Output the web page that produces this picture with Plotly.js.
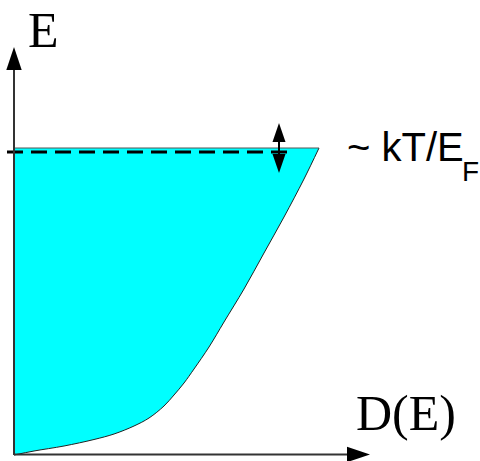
<!DOCTYPE html>
<html>
<head>
<meta charset="utf-8">
<script src="https://cdn.plot.ly/plotly-3.0.1.min.js"></script>
<style>html,body{margin:0;padding:0;background:#fff;}#chart{width:480px;height:461px;}</style>
</head>
<body>
<div id="chart"></div>
<script>
// Density of states D(E) (horizontal) versus energy E (vertical), arbitrary units
const dosValues    = [0, 20, 50, 80, 100, 120, 135, 150, 160, 170, 180, 195, 210, 230, 250, 270, 290, 305];
const energyValues = [0,  4,  9, 15.5, 21, 29,  37,  49,  60,  72,  86, 108, 133, 166, 202, 238, 276, 307];
const fermiEnergy = 307;
const smearingLevel = 303;      // dashed line just below E_F
const smearingHalf = 25;        // half extent of the double arrow (~kT)
const arrowX = 265;
const axisLabels = {x: 'D(E)', y: 'E'};
const noteMain = '~ kT/E';
const noteSub = 'F';

const xEnd = 356, yEnd = 408;   // axis arrow tips
const headLen = 23, headHalf = 7.7;
const aHeadLen = 19, aHeadHalf = 6.5;

const tri = (p) => 'M' + p.map(q => q[0] + ',' + q[1]).join(' L') + ' Z';

const traces = [
  {
    x: dosValues, y: energyValues, type: 'scatter', mode: 'lines',
    line: {color: '#222', width: 1, shape: 'spline', smoothing: 1},
    fill: 'tozerox', fillcolor: '#00ffff', hoverinfo: 'skip'
  },
  {
    x: [0, dosValues[dosValues.length - 1]], y: [fermiEnergy, fermiEnergy],
    type: 'scatter', mode: 'lines', line: {color: '#555', width: 1}, hoverinfo: 'skip'
  },
  {
    x: [-7, 273], y: [smearingLevel, smearingLevel], type: 'scatter', mode: 'lines',
    line: {color: '#000', width: 3, dash: '16px,8px'}, hoverinfo: 'skip'
  }
];

const shapes = [
  // y axis
  {type: 'line', xref: 'x', yref: 'y', x0: 0, y0: 0, x1: 0, y1: yEnd - headLen + 1, line: {color: '#333', width: 2}},
  {type: 'path', xref: 'x', yref: 'y', path: tri([[-headHalf, yEnd - headLen], [headHalf, yEnd - headLen], [0, yEnd]]), fillcolor: '#000', line: {width: 0}},
  // x axis
  {type: 'line', xref: 'x', yref: 'y', x0: 0, y0: 0.5, x1: xEnd - headLen + 1, y1: 0.5, line: {color: '#333', width: 2}},
  {type: 'path', xref: 'x', yref: 'y', path: tri([[xEnd - headLen, 0.5 - headHalf], [xEnd - headLen, 0.5 + headHalf], [xEnd, 0.5]]), fillcolor: '#000', line: {width: 0}},
  // double arrow
  {type: 'line', xref: 'x', yref: 'y', x0: arrowX, y0: fermiEnergy - smearingHalf + aHeadLen - 1, x1: arrowX, y1: fermiEnergy + smearingHalf - aHeadLen + 1, line: {color: '#000', width: 2}},
  {type: 'path', xref: 'x', yref: 'y', path: tri([[arrowX - aHeadHalf, fermiEnergy + smearingHalf - aHeadLen], [arrowX + aHeadHalf, fermiEnergy + smearingHalf - aHeadLen], [arrowX, fermiEnergy + smearingHalf]]), fillcolor: '#000', line: {width: 0}},
  {type: 'path', xref: 'x', yref: 'y', path: tri([[arrowX - aHeadHalf, fermiEnergy - smearingHalf + aHeadLen], [arrowX + aHeadHalf, fermiEnergy - smearingHalf + aHeadLen], [arrowX, fermiEnergy - smearingHalf]]), fillcolor: '#000', line: {width: 0}}
];

const serif = 'Liberation Serif, Times New Roman, serif';
const narrow = 'Liberation Sans Narrow, Arial Narrow, Liberation Sans, sans-serif';

const annotations = [
  {x: 12, y: 425.5, xref: 'x', yref: 'y', text: axisLabels.y, showarrow: false, xanchor: 'left', yanchor: 'middle', font: {family: serif, size: 50, color: '#000'}},
  {x: 340, y: 42.5, xref: 'x', yref: 'y', text: axisLabels.x, showarrow: false, xanchor: 'left', yanchor: 'middle', font: {family: serif, size: 50, color: '#000'}},
  {x: 331, y: 308, xref: 'x', yref: 'y', text: noteMain, showarrow: false, xanchor: 'left', yanchor: 'middle', font: {family: narrow, size: 40, color: '#000'}},
  {x: 446, y: 284, xref: 'x', yref: 'y', text: noteSub, showarrow: false, xanchor: 'left', yanchor: 'middle', font: {family: narrow, size: 28, color: '#000'}}
];

const layout = {
  width: 480, height: 461,
  margin: {l: 0, r: 0, t: 0, b: 0, pad: 0},
  paper_bgcolor: '#fff', plot_bgcolor: '#fff',
  showlegend: false, hovermode: false,
  xaxis: {range: [-14, 466], visible: false, fixedrange: true},
  yaxis: {range: [-6, 455], visible: false, fixedrange: true},
  shapes: shapes, annotations: annotations
};

Plotly.newPlot('chart', traces, layout, {staticPlot: true, displayModeBar: false});
</script>
</body>
</html>
